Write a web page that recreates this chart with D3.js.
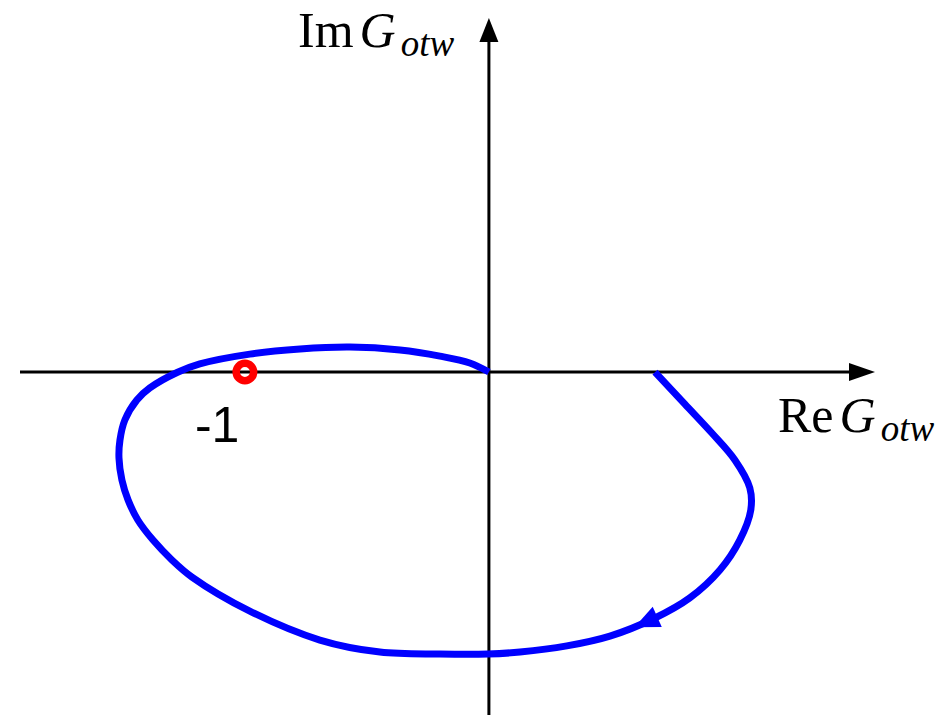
<!DOCTYPE html>
<html>
<head>
<meta charset="utf-8">
<script src="https://cdn.jsdelivr.net/npm/d3@7"></script>
<style>
  html, body { margin: 0; padding: 0; background: #fff; }
  svg { display: block; }
</style>
</head>
<body>
<div id="chart"></div>
<script>
"use strict";

var nyquistRe = [0.678, 0.800, 0.910, 1.004, 1.065, 1.069, 1.024, 0.943, 0.820, 0.678,
  0.494, 0.318, 0.127, -0.004, -0.200, -0.445, -0.690, -0.976, -1.212, -1.294,
  -1.371, -1.433, -1.473, -1.498, -1.510, -1.506, -1.486, -1.437, -1.384, -1.273,
  -1.180, -0.976, -0.771, -0.567, -0.363, -0.200, -0.078, 0];
var nyquistIm = [0, -0.131, -0.249, -0.359, -0.473, -0.563, -0.686, -0.808, -0.922, -1.004,
  -1.078, -1.118, -1.143, -1.151, -1.151, -1.143, -1.094, -0.976, -0.837, -0.767,
  -0.686, -0.604, -0.522, -0.441, -0.351, -0.278, -0.196, -0.114, -0.065, -0.002,
  0.033, 0.073, 0.094, 0.102, 0.090, 0.065, 0.037, 0];
var arrowAt = [0.588, -1.029];
var criticalPoint = [-1, 0];
var criticalLabel = "-1";
var xLabel = ["Re", "G", "otw"];
var yLabel = ["Im", "G", "otw"];

var w = 946,
  h = 715;

var svg = d3.select("#chart").append("svg").attr("width", w).attr("height", h);

var x = d3.scaleLinear().domain([-1.914, 1.576]).range([20, 875]);
var y = d3.scaleLinear().domain([-1.4, 1.445]).range([715, 18]);

// axes
svg.append("line")
  .attr("x1", x(-1.914)).attr("x2", x(1.576) - 24)
  .attr("y1", y(0)).attr("y2", y(0))
  .attr("stroke", "#000").attr("stroke-width", 3);
svg.append("path")
  .attr("d", "M" + x(1.576) + "," + y(0) + "L" + (x(1.576) - 26) + "," + (y(0) - 9) +
    "L" + (x(1.576) - 26) + "," + (y(0) + 9) + "Z")
  .attr("fill", "#000");

svg.append("line")
  .attr("x1", x(0)).attr("x2", x(0))
  .attr("y1", y(-1.4)).attr("y2", y(1.445) + 22)
  .attr("stroke", "#000").attr("stroke-width", 3);
svg.append("path")
  .attr("d", "M" + x(0) + "," + y(1.445) + "L" + (x(0) - 9.5) + "," + (y(1.445) + 24) +
    "L" + (x(0) + 9.5) + "," + (y(1.445) + 24) + "Z")
  .attr("fill", "#000");

// curve
var pts = nyquistRe.map(function (re, i) {
  return [x(re), y(nyquistIm[i])];
});
var line = d3.line().curve(d3.curveCatmullRom.alpha(0.5));
var curve = svg.append("path")
  .attr("d", line(pts))
  .attr("fill", "none")
  .attr("stroke", "#0000ff")
  .attr("stroke-width", 7)
  .attr("stroke-linejoin", "round");

// arrowhead along the curve, nearest to arrowAt
var node = curve.node();
var total = node.getTotalLength();
var tx = x(arrowAt[0]), ty = y(arrowAt[1]);
var best = 0, bestD = Infinity;
for (var l = 0; l <= total; l += 0.5) {
  var p = node.getPointAtLength(l);
  var d = (p.x - tx) * (p.x - tx) + (p.y - ty) * (p.y - ty);
  if (d < bestD) { bestD = d; best = l; }
}
var tip = node.getPointAtLength(best);
var back = node.getPointAtLength(Math.max(0, best - 25));
var dx = tip.x - back.x, dy = tip.y - back.y;
var len = Math.sqrt(dx * dx + dy * dy);
var ux = dx / len, uy = dy / len;
var bx = tip.x - ux * 25, by = tip.y - uy * 25;
svg.append("path")
  .attr("d", "M" + tip.x + "," + tip.y +
    "L" + (bx - uy * 11) + "," + (by + ux * 11) +
    "L" + (bx + uy * 11) + "," + (by - ux * 11) + "Z")
  .attr("fill", "#0000ff");

// critical point
svg.append("circle")
  .attr("cx", x(criticalPoint[0]) + 1)
  .attr("cy", y(criticalPoint[1]))
  .attr("r", 8.75)
  .attr("fill", "none")
  .attr("stroke", "#ff0000")
  .attr("stroke-width", 7.5);

svg.append("text")
  .attr("x", x(criticalPoint[0]) - 49)
  .attr("y", 442)
  .attr("font-family", "Liberation Sans, Arial, sans-serif")
  .attr("font-size", 50)
  .attr("fill", "#000")
  .text(criticalLabel);

// axis labels
var axisLabel = function (parts, px, py) {
  var t = svg.append("text")
    .attr("x", px).attr("y", py)
    .attr("font-family", "Liberation Serif, Times New Roman, serif")
    .attr("font-size", 50)
    .attr("fill", "#000");
  t.append("tspan").text(parts[0]);
  t.append("tspan").attr("dx", 6).attr("font-style", "italic").text(parts[1]);
  t.append("tspan").attr("dx", 5).attr("dy", 9).attr("font-style", "italic")
    .attr("font-size", 37).text(parts[2]);
};
axisLabel(yLabel, 298, 47);
axisLabel(xLabel, 778, 432);
</script>
</body>
</html>
